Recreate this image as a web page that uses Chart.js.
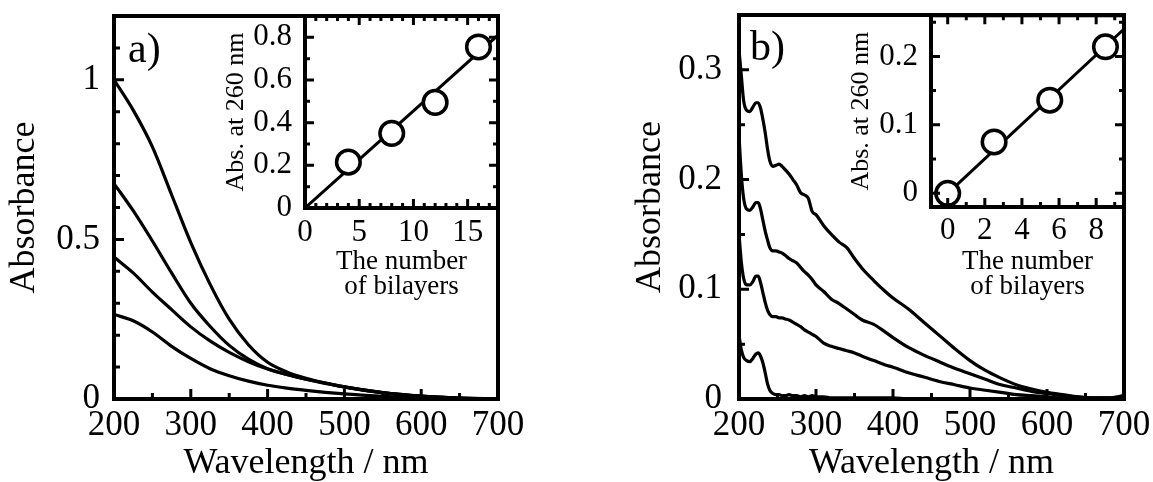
<!DOCTYPE html>
<html>
<head>
<meta charset="utf-8">
<title>Absorbance spectra</title>
<script src="https://cdn.jsdelivr.net/npm/chart.js@4.4.1/dist/chart.umd.min.js"></script>
<style>
  html, body { margin: 0; padding: 0; background: #fff; }
  #page { position: relative; width: 1153px; height: 482px; overflow: hidden; }
  #page canvas { position: absolute; top: 0; }
</style>
</head>
<body>
<div id="page">
  <canvas id="mainA" width="576" height="482" style="left:0px"></canvas>
  <canvas id="mainB" width="577" height="482" style="left:576px"></canvas>
  <canvas id="insetA" width="320" height="320" style="left:200px"></canvas>
  <canvas id="insetB" width="333" height="320" style="left:820px"></canvas>
</div>
<script>
// (a) spectra, wavelength in nm
const wavelengthA = [200, 225, 250, 275, 300, 325, 350, 375, 400, 425, 450, 475, 500, 550, 600, 650, 700];
const absA1 = [1.000, 0.905, 0.790, 0.640, 0.490, 0.360, 0.250, 0.170, 0.115, 0.085, 0.065, 0.050, 0.038, 0.020, 0.009, 0.003, 0.000];
const absA2 = [0.675, 0.590, 0.495, 0.395, 0.300, 0.228, 0.168, 0.125, 0.095, 0.077, 0.062, 0.050, 0.038, 0.020, 0.009, 0.003, 0.000];
const absA3 = [0.445, 0.395, 0.335, 0.280, 0.226, 0.182, 0.146, 0.117, 0.094, 0.077, 0.062, 0.049, 0.037, 0.019, 0.008, 0.003, 0.000];
const absA4 = [0.265, 0.245, 0.210, 0.165, 0.127, 0.095, 0.073, 0.056, 0.043, 0.034, 0.027, 0.021, 0.016, 0.008, 0.003, 0.001, 0.000];

// (b) spectra
const wavelengthB = [200, 203, 206, 210, 214, 218, 222, 225, 228, 231,
                     234, 237, 240, 244, 248, 252, 256, 260, 265, 270,
                     275, 280, 285, 290, 295, 300, 310, 320, 330, 340,
                     350, 360, 375, 390, 400, 420, 440, 460, 480, 500,
                     520, 540, 560, 580, 600, 620, 640, 660, 680, 700];
const absB1 = [0.318, 0.295, 0.272, 0.263, 0.262, 0.266, 0.270, 0.270, 0.265, 0.255,
               0.243, 0.228, 0.217, 0.212, 0.213, 0.214, 0.212, 0.209, 0.205, 0.200,
               0.195, 0.188, 0.186, 0.183, 0.171, 0.168, 0.158, 0.150, 0.143, 0.138,
               0.128, 0.119, 0.108, 0.098, 0.092, 0.082, 0.070, 0.058, 0.046, 0.035,
               0.026, 0.019, 0.013, 0.009, 0.006, 0.004, 0.002, 0.001, 0.001, 0.003];
const absB2 = [0.240, 0.205, 0.183, 0.173, 0.172, 0.175, 0.179, 0.179, 0.173, 0.163,
               0.153, 0.145, 0.138, 0.135, 0.135, 0.134, 0.133, 0.131, 0.128, 0.126,
               0.124, 0.120, 0.116, 0.113, 0.109, 0.104, 0.098, 0.091, 0.087, 0.082,
               0.077, 0.072, 0.068, 0.061, 0.056, 0.047, 0.040, 0.034, 0.028, 0.023,
               0.018, 0.013, 0.010, 0.007, 0.005, 0.003, 0.002, 0.001, 0.001, 0.002];
const absB3 = [0.150, 0.125, 0.110, 0.104, 0.104, 0.107, 0.112, 0.112, 0.106, 0.097,
               0.088, 0.081, 0.077, 0.075, 0.075, 0.074, 0.074, 0.073, 0.072, 0.070,
               0.068, 0.066, 0.063, 0.061, 0.059, 0.057, 0.051, 0.048, 0.046, 0.044,
               0.042, 0.039, 0.035, 0.031, 0.029, 0.024, 0.020, 0.016, 0.013, 0.010,
               0.008, 0.006, 0.004, 0.003, 0.002, 0.001, 0.001, 0.000, 0.000, 0.001];
const absB4 = [0.058, 0.045, 0.038, 0.035, 0.034, 0.037, 0.041, 0.042, 0.039, 0.033,
               0.024, 0.014, 0.008, 0.005, 0.004, 0.004, 0.003, 0.003, 0.004, 0.003,
               0.003, 0.002, 0.003, 0.002, 0.003, 0.002, 0.002, 0.001, 0.001, 0.001,
               0.001, 0.001, 0.001, 0.001, 0.001, 0.000, 0.000, 0.000, 0.000, 0.000,
               0.000, 0.000, 0.000, 0.000, 0.000, 0.000, 0.000, 0.000, 0.000, 0.000];

// insets: absorbance at 260 nm vs number of bilayers, with linear fit
const bilayersA = [4, 8, 12, 16];
const abs260A = [0.215, 0.350, 0.495, 0.755];
const fitXA = [0, 17.8];
const fitYA = [0, 0.81];
const bilayersB = [0, 2.5, 5.5, 8.5];
const abs260B = [0, 0.075, 0.136, 0.214];
const fitXB = [0, 9.5];
const fitYB = [0, 0.24];

// tick labels
const wavelengthTicks = [200, 300, 400, 500, 600, 700];
const absTicksA = [0, 0.5, 1];
const absTicksB = [0, 0.1, 0.2, 0.3];
const bilayerTicksA = [0, 5, 10, 15];
const abs260TicksA = [0, 0.2, 0.4, 0.6, 0.8];
const bilayerTicksB = [0, 2, 4, 6, 8];
const abs260TicksB = [0, 0.1, 0.2];

const SERIF = "'Liberation Serif', 'Times New Roman', serif";
Chart.defaults.color = '#000';
Chart.defaults.font.family = SERIF;
Chart.defaults.animation = false;
Chart.defaults.plugins.legend.display = false;
Chart.defaults.plugins.tooltip.enabled = false;

const toPoints = (xs, ys) => xs.map((x, i) => ({ x: x, y: ys[i] }));

// box frame, inward major/minor ticks and the panel letter
const frameTicks = {
    id: 'frameTicks',
    afterDraw(chart, args, o) {
        const { ctx, chartArea: a } = chart;
        const marks = (scale, spec, cb) => {
            const first = Math.ceil(scale.min / spec.minor - 1e-9);
            const last = Math.floor(scale.max / spec.minor + 1e-9);
            for (let k = first; k <= last; k++) {
                const v = k * spec.minor;
                const r = v / spec.major;
                const len = Math.abs(r - Math.round(r)) < 1e-6 ? o.majorLen : o.minorLen;
                cb(scale.getPixelForValue(v), len);
            }
        };
        ctx.save();
        ctx.strokeStyle = '#000';
        ctx.lineWidth = o.tickWidth;
        ctx.beginPath();
        marks(chart.scales.x, o.x, (p, len) => {
            ctx.moveTo(p, a.bottom); ctx.lineTo(p, a.bottom - len);
            if (o.mirror) { ctx.moveTo(p, a.top); ctx.lineTo(p, a.top + len); }
        });
        marks(chart.scales.y, o.y, (p, len) => {
            ctx.moveTo(a.left, p); ctx.lineTo(a.left + len, p);
            if (o.mirror) { ctx.moveTo(a.right, p); ctx.lineTo(a.right - len, p); }
        });
        ctx.stroke();
        ctx.lineWidth = o.frameWidth;
        ctx.strokeRect(a.left, a.top, a.right - a.left, a.bottom - a.top);
        if (o.tag) {
            ctx.fillStyle = '#000';
            ctx.font = o.tag.size + 'px ' + SERIF;
            ctx.textBaseline = 'alphabetic';
            ctx.fillText(o.tag.text, o.tag.x, o.tag.y);
        }
        ctx.restore();
    }
};
Chart.register(frameTicks);

function axis(o) {
    const horizontal = o.position === 'bottom';
    return {
        type: 'linear',
        position: o.position,
        min: o.min,
        max: o.max,
        grid: { display: false, drawTicks: false },
        border: { display: false },
        afterBuildTicks: s => { s.ticks = o.ticks.map(v => ({ value: v })); },
        afterFit: s => {
            // fixed axis band, and no extra room for overhanging labels
            if (horizontal) s.height = o.size; else s.width = o.size;
            s.paddingTop = s.paddingBottom = s.paddingLeft = s.paddingRight = 0;
        },
        ticks: {
            autoSkip: false,
            maxRotation: 0,
            padding: o.tickPad,
            font: { size: o.tickSize, lineHeight: 1 },
            callback: v => String(v)
        },
        title: {
            display: true,
            text: o.title,
            font: { size: o.titleSize, lineHeight: o.titleLH || 1 },
            padding: horizontal ? { top: 0, bottom: o.titlePad } : { top: o.titlePad, bottom: 0 }
        }
    };
}

function curve(xs, ys) {
    return {
        data: toPoints(xs, ys),
        borderColor: '#000',
        borderWidth: 3.2,
        pointRadius: 0,
        fill: false,
        cubicInterpolationMode: 'monotone'
    };
}

function insetSets(xs, ys, fx, fy) {
    return [
        {
            data: toPoints(xs, ys),
            showLine: false,
            pointRadius: 11.8,
            pointBorderWidth: 3.5,
            pointBackgroundColor: '#fff',
            pointBorderColor: '#000',
            clip: false
        },
        {
            data: toPoints(fx, fy),
            borderColor: '#000',
            borderWidth: 3,
            pointRadius: 0,
            fill: false
        }
    ];
}

function makeChart(id, datasets, padding, scales, frame) {
    return new Chart(document.getElementById(id), {
        type: 'line',
        data: { datasets: datasets },
        options: {
            responsive: false,
            devicePixelRatio: 1,
            events: [],
            layout: { padding: padding },
            scales: scales,
            plugins: { frameTicks: frame }
        }
    });
}

makeChart('mainA',
    [curve(wavelengthA, absA1), curve(wavelengthA, absA2), curve(wavelengthA, absA3), curve(wavelengthA, absA4)],
    { top: 16, right: 78, left: 0, bottom: 0 },
    {
        x: axis({ position: 'bottom', min: 200, max: 700, ticks: wavelengthTicks, size: 83, tickPad: 9, tickSize: 35,
                  title: 'Wavelength / nm', titleSize: 36, titlePad: 0 }),
        y: axis({ position: 'left', min: 0, max: 1.2, ticks: absTicksA, size: 114, tickPad: 14, tickSize: 35,
                  title: 'Absorbance', titleSize: 36, titlePad: 7 })
    },
    { x: { minor: 50, major: 100 }, y: { minor: 0.1, major: 0.5 }, majorLen: 10, minorLen: 6,
      tickWidth: 3, frameWidth: 4, mirror: false, tag: { text: 'a)', x: 128, y: 62, size: 42 } });

makeChart('mainB',
    [curve(wavelengthB, absB1), curve(wavelengthB, absB2), curve(wavelengthB, absB3), curve(wavelengthB, absB4)],
    { top: 15, right: 29, left: 0, bottom: 0 },
    {
        x: axis({ position: 'bottom', min: 200, max: 700, ticks: wavelengthTicks, size: 83, tickPad: 9, tickSize: 35,
                  title: 'Wavelength / nm', titleSize: 36, titlePad: 0 }),
        y: axis({ position: 'left', min: 0, max: 0.35, ticks: absTicksB, size: 163, tickPad: 17, tickSize: 35,
                  title: 'Absorbance', titleSize: 36, titlePad: 57 })
    },
    { x: { minor: 50, major: 100 }, y: { minor: 0.05, major: 0.1 }, majorLen: 10, minorLen: 6,
      tickWidth: 3, frameWidth: 4, mirror: false, tag: { text: 'b)', x: 174, y: 60, size: 42 } });

makeChart('insetA',
    insetSets(bilayersA, abs260A, fitXA, fitYA),
    { top: 16, right: 22, left: 0, bottom: 0 },
    {
        x: axis({ position: 'bottom', min: 0, max: 17.8, ticks: bilayerTicksA, size: 112, tickPad: 9, tickSize: 31,
                  title: ['The number', 'of bilayers'], titleSize: 27, titleLH: '25px', titlePad: 21 }),
        y: axis({ position: 'left', min: 0, max: 0.9, ticks: abs260TicksA, size: 105, tickPad: 13, tickSize: 31,
                  title: 'Abs. at 260 nm', titleSize: 26, titlePad: 23 })
    },
    { x: { minor: 1, major: 5 }, y: { minor: 0.1, major: 0.2 }, majorLen: 9, minorLen: 5,
      tickWidth: 3, frameWidth: 4, mirror: true });

makeChart('insetB',
    insetSets(bilayersB, abs260B, fitXB, fitYB),
    { top: 15, right: 29, left: 0, bottom: 0 },
    {
        x: axis({ position: 'bottom', min: -0.9, max: 9.5, ticks: bilayerTicksB, size: 113, tickPad: 8, tickSize: 31,
                  title: ['The number', 'of bilayers'], titleSize: 27, titleLH: '25px', titlePad: 21 }),
        y: axis({ position: 'left', min: -0.02, max: 0.26, ticks: abs260TicksB, size: 111, tickPad: 13, tickSize: 31,
                  title: 'Abs. at 260 nm', titleSize: 26, titlePad: 28 })
    },
    { x: { minor: 1, major: 2 }, y: { minor: 0.05, major: 0.1 }, majorLen: 9, minorLen: 5,
      tickWidth: 3, frameWidth: 4, mirror: true });
</script>
</body>
</html>
